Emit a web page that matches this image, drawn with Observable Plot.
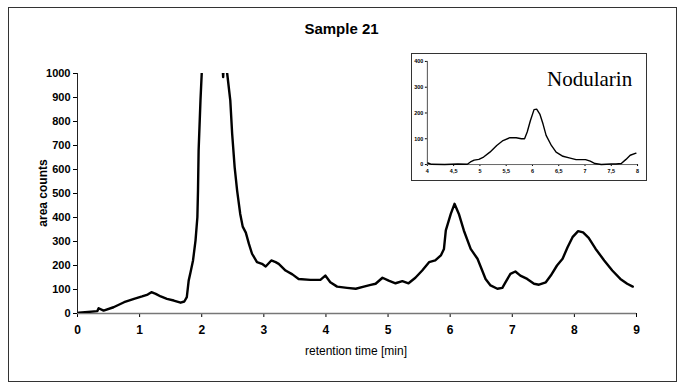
<!DOCTYPE html>
<html>
<head>
<meta charset="utf-8">
<script src="https://cdn.jsdelivr.net/npm/d3@7"></script>
<script src="https://cdn.jsdelivr.net/npm/@observablehq/plot@0.6"></script>
<style>
  html, body { margin: 0; padding: 0; background: #fff; }
  #wrap { position: relative; width: 683px; height: 390px; overflow: hidden; font-family: "Liberation Sans", Arial, sans-serif; }
  #frame { position: absolute; left: 8px; top: 7px; width: 669px; height: 375px; border: 1px solid #333; box-sizing: border-box; }
  .lbl { position: absolute; color: #000; white-space: nowrap; }
  #title { left: 0; width: 683px; top: 20px; text-align: center; font-weight: bold; font-size: 15px; }
  #xlabel { left: 0; width: 712px; top: 344px; text-align: center; font-family: "Liberation Sans Narrow", "Liberation Sans", Arial, sans-serif; font-size: 12px; }
  #ylabel { left: 43px; top: 193px; transform: translate(-50%, -50%) rotate(-90deg); font-weight: bold; font-size: 12px; font-family: "Liberation Sans Narrow", "Liberation Sans", Arial, sans-serif; }
  #main { position: absolute; left: 0; top: 0; }
  #inset { position: absolute; left: 411px; top: 53px; width: 236px; height: 128px; border: 1px solid #333; box-sizing: border-box; background: #fff; }
  #inset svg { position: absolute; left: -1px; top: -1px; }
  #nod { left: 135px; top: 13px; font-family: "Liberation Serif", "Times New Roman", serif; font-size: 21px; }
</style>
</head>
<body>
<div id="wrap">
  <div id="frame"></div>
  <div id="main"></div>
  <div class="lbl" id="title">Sample 21</div>
  <div class="lbl" id="xlabel">retention time [min]</div>
  <div class="lbl" id="ylabel">area counts</div>
  <div id="inset"><div class="lbl" id="nod">Nodularin</div></div>
</div>
<script>
// Main chromatogram (retention time in min, area counts); values above 1000 are off-scale (clipped)
const mainTime = [0.02, 0.32, 0.34, 0.42, 0.58, 0.75, 0.91, 1.04, 1.13, 1.19, 1.26, 1.34, 1.44, 1.55, 1.66, 1.72, 1.76, 1.79, 1.82, 1.86, 1.90, 1.93, 1.94, 1.95, 1.98, 2.00, 2.10, 2.30, 2.345, 2.36, 2.40, 2.41, 2.46, 2.49, 2.53, 2.57, 2.62, 2.66, 2.71, 2.76, 2.81, 2.89, 2.97, 3.03, 3.12, 3.19, 3.24, 3.35, 3.46, 3.56, 3.75, 3.91, 3.99, 4.07, 4.18, 4.34, 4.48, 4.61, 4.72, 4.80, 4.91, 5.01, 5.12, 5.23, 5.33, 5.44, 5.55, 5.66, 5.76, 5.85, 5.90, 5.93, 6.01, 6.07, 6.14, 6.22, 6.33, 6.44, 6.49, 6.57, 6.65, 6.76, 6.84, 6.89, 6.97, 7.05, 7.13, 7.24, 7.35, 7.43, 7.54, 7.62, 7.72, 7.81, 7.89, 7.97, 8.06, 8.14, 8.23, 8.34, 8.48, 8.61, 8.74, 8.85, 8.94];
const mainCounts = [3, 10, 22, 12, 26, 47, 61, 71, 79, 89, 82, 71, 61, 54, 45, 50, 68, 137, 172, 221, 304, 401, 512, 679, 888, 1000, 2200, 1200, 985, 1060, 1010, 1000, 888, 749, 610, 512, 415, 362, 337, 290, 249, 214, 207, 196, 221, 214, 207, 179, 163, 144, 140, 140, 158, 130, 112, 107, 103, 112, 119, 124, 149, 137, 126, 135, 126, 149, 179, 214, 221, 242, 269, 346, 415, 457, 415, 346, 269, 228, 196, 144, 117, 103, 107, 130, 165, 175, 158, 144, 124, 120, 130, 158, 200, 228, 276, 318, 343, 338, 315, 270, 221, 179, 144, 124, 112];

// Inset: Nodularin trace
const insetTime = [4.01, 4.08, 4.33, 4.58, 4.76, 4.82, 4.89, 4.98, 5.07, 5.19, 5.32, 5.44, 5.57, 5.69, 5.79, 5.85, 5.90, 5.96, 6.03, 6.08, 6.14, 6.20, 6.26, 6.36, 6.45, 6.58, 6.70, 6.83, 7.01, 7.10, 7.19, 7.31, 7.50, 7.59, 7.69, 7.78, 7.86, 7.97];
const insetCounts = [6, 1, 0, 2, 1, 10, 17, 20, 29, 48, 74, 93, 104, 104, 100, 100, 126, 170, 213, 215, 196, 158, 113, 74, 48, 32, 26, 19, 19, 13, 4, 0, 2, 2, 4, 20, 36, 44];

const xTicks = [0, 1, 2, 3, 4, 5, 6, 7, 8, 9];
const yTicks = [0, 100, 200, 300, 400, 500, 600, 700, 800, 900, 1000];
const insetXTicks = [4, 4.5, 5, 5.5, 6, 6.5, 7, 7.5, 8];
const insetYTicks = [0, 100, 200, 300, 400];

const mainData = mainTime.map((t, i) => ({t, c: mainCounts[i]}));
const insetData = insetTime.map((t, i) => ({t, c: insetCounts[i]}));

const main = Plot.plot({
  width: 683, height: 390,
  marginLeft: 77, marginRight: 47, marginTop: 73, marginBottom: 77,
  style: {fontFamily: '"Liberation Sans Narrow", "Liberation Sans", Arial, sans-serif', fontSize: "12px", background: "transparent", color: "#000"},
  x: {domain: [0, 9]},
  y: {domain: [0, 1000]},
  marks: [
    Plot.axisY(yTicks, {tickSize: 4, tickPadding: 3, label: null, fontWeight: "bold", fontSize: 11, tickFormat: d => String(d)}),
    Plot.axisX(xTicks, {tickSize: 4, tickPadding: 8, label: null, fontWeight: "bold", fontSize: 12, tickFormat: d => String(d)}),
    Plot.ruleY([0], {stroke: "#777", strokeWidth: 1.5}),
    Plot.ruleX([0], {stroke: "#222", strokeWidth: 1}),
    Plot.line(mainData, {x: "t", y: "c", stroke: "#000", strokeWidth: 2.4, clip: true})
  ]
});
document.getElementById("main").appendChild(main);

const inset = Plot.plot({
  width: 236, height: 128,
  marginLeft: 16, marginRight: 8, marginTop: 8, marginBottom: 16,
  style: {fontFamily: '"Liberation Sans Narrow", "Liberation Sans", Arial, sans-serif', fontSize: "6px", background: "transparent", color: "#000"},
  x: {domain: [4, 8]},
  y: {domain: [0, 400]},
  marks: [
    Plot.axisY(insetYTicks, {tickSize: 2, tickPadding: 2, label: null, fontWeight: "bold", fontSize: 5.5}),
    Plot.axisX(insetXTicks, {tickSize: 2, tickPadding: 3, label: null, fontWeight: "bold", fontSize: 5.5, tickFormat: d => String(d).replace(".", ",")}),
    Plot.ruleY([0], {stroke: "#666", strokeWidth: 1}),
    Plot.ruleX([4], {stroke: "#222", strokeWidth: 0.8}),
    Plot.line(insetData, {x: "t", y: "c", stroke: "#000", strokeWidth: 1.4})
  ]
});
const ins = document.getElementById("inset");
ins.insertBefore(inset, ins.firstChild);
</script>
</body>
</html>
